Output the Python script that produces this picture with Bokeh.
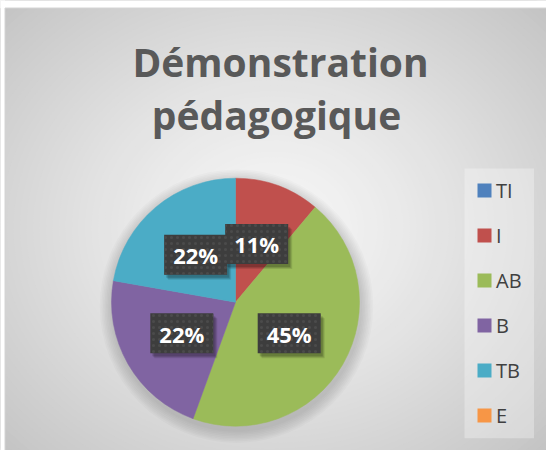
import numpy as np
from bokeh.plotting import figure
from bokeh.models import Range1d, ColumnDataSource
from bokeh.core.properties import value
from bokeh.embed import file_html
from bokeh.resources import INLINE

# ---- data ----
categories = ["TI", "I", "AB", "B", "TB", "E"]
counts = [0, 1, 4, 2, 2, 0]
pct_labels = ["0%", "11%", "45%", "22%", "22%", "0%"]
colors = ["#4F81BD", "#C0504D", "#9BBB59", "#8064A2", "#4BACC6", "#F79646"]
title_lines = ["Démonstration", "pédagogique"]

W, H = 546, 450

p = figure(width=W, height=H, output_backend="svg", toolbar_location=None,
           x_range=Range1d(0, W), y_range=Range1d(-H, 0),
           x_axis_location=None, y_axis_location=None, min_border=0,
           outline_line_color=None, background_fill_color="white",
           border_fill_color="white")
p.grid.visible = False

# chart area with radial gradient background
CL, CR, CT, CB = 4.5, 552, 7.5, 456
p.quad(left=CL, right=CR, top=-CT, bottom=-CB, fill_color="#c4c4c4", line_color=None)
cx_bg, cy_bg = 273, -228
n = 60
ts = np.linspace(1.0, 0.0, n, endpoint=False)
for t in ts:
    g = int(round(246 - (246 - 194) * t ** 1.3))
    p.ellipse(x=cx_bg, y=cy_bg, width=2 * 390 * t, height=2 * 330 * t,
              fill_color=(g, g, g), line_color=None)
# mask outside chart area
p.quad(left=[-10, -10], right=[W + 10, CL], top=[10, 10],
       bottom=[-CT, -H - 10], fill_color="white", line_color=None)
p.quad(left=CL, right=CR, top=-CT, bottom=-CB, fill_color=None,
       line_color="#d4d4d4", line_width=1)

# pie geometry
cx, cy, R = 235, -301.7, 124
vals = np.array(counts, dtype=float)
frac = vals / vals.sum()
cum = np.concatenate([[0], np.cumsum(frac)])
start = np.pi / 2 - 2 * np.pi * cum[:-1]
end = np.pi / 2 - 2 * np.pi * cum[1:]

# soft shadow
for k in range(8, 0, -1):
    p.circle(x=cx + 1, y=cy - 4, radius=R + k * 1.6, fill_color="black",
             fill_alpha=0.018, line_color=None)

keep = [i for i in range(len(counts)) if counts[i] > 0]
src_nz = ColumnDataSource(dict(start=start[keep], end=end[keep],
                               color=[colors[i] for i in keep]))
p.wedge(x=cx, y=cy, radius=R, start_angle="end", end_angle="start",
        direction="anticlock", fill_color="color", line_color="color",
        line_width=0.5, source=src_nz)

# data labels at half radius on mid-angle
mid = (start + end) / 2
lx = cx + 0.5 * R * np.cos(mid)
ly = cy + 0.5 * R * np.sin(mid)
lab_x = [lx[i] for i in keep]
lab_y = [ly[i] for i in keep]
lab_t = [pct_labels[i] for i in keep]
bw, bh = 63, 40
for k, a in [(5, 0.10), (4, 0.12), (3, 0.15)]:
    p.rect(x=[v + k - 1 for v in lab_x], y=[v - k for v in lab_y], width=bw, height=bh,
           fill_color="black", fill_alpha=a, line_color=None)
p.rect(x=lab_x, y=lab_y, width=bw, height=bh, fill_color="#3d3d3d",
       line_color=None, hatch_pattern="dot", hatch_color="#4b4b4b",
       hatch_scale=6, hatch_weight=1.2)
p.text(x=lab_x, y=[v - 0.5 for v in lab_y], text=lab_t, text_font=value("Open Sans"),
       text_font_style="bold", text_font_size="22px", text_color="white",
       text_align="center", text_baseline="middle")

# title
p.text(x=[280, 276], y=[-61, -114], text=title_lines, text_font=value("Open Sans"),
       text_font_style="bold", text_font_size="39px", text_color="#595959",
       text_align="center", text_baseline="middle")

# legend
p.quad(left=464, right=533.5, top=-168, bottom=-437.7, fill_color="white",
       fill_alpha=0.3, line_color=None)
ley = [-(190 + 45 * i) for i in range(len(categories))]
p.rect(x=[484] * len(categories), y=ley, width=14, height=14,
       fill_color=colors, line_color=None)
p.text(x=[495.5] * len(categories), y=[v + 0.5 for v in ley], text=categories,
       text_font=value("Open Sans"), text_font_size="20px", text_color="#404040",
       text_align="left", text_baseline="middle")

open("out.html", "w").write(file_html(p, INLINE))
